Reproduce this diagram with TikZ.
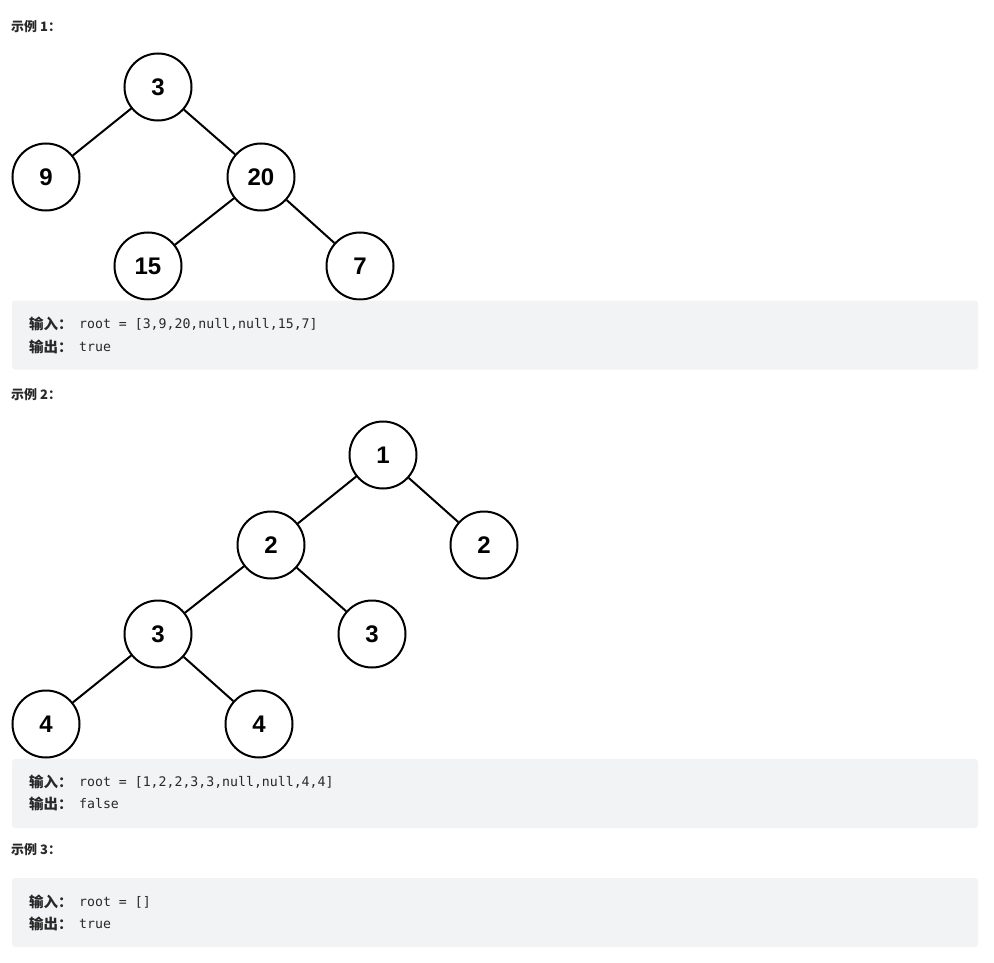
\documentclass[tikz,border=0pt]{standalone}
\usepackage{fontspec}
\setmainfont{Liberation Sans}
\newfontfamily\cjk{Noto Sans CJK SC}
\newfontfamily\codefont{DejaVu Sans Mono}
\usepackage{xcolor}
\usetikzlibrary{positioning}

\definecolor{boxgray}{RGB}{242,243,245}
\definecolor{textgray}{RGB}{40,40,40}

\begin{document}
\begin{tikzpicture}[
        x=1pt, y=-1pt,
        treenode/.style={circle, draw, line width=2pt, minimum size=67pt, inner sep=0pt, font=\bfseries\fontsize{24}{24}\selectfont},
        edge/.style={draw, line width=2pt},
        heading/.style={anchor=west, inner sep=0pt, text=textgray, font=\cjk\bfseries\fontsize{13}{15}\selectfont},
        codebox/.style={rectangle, fill=boxgray, rounded corners=3pt, minimum width=966pt, minimum height=69pt, inner sep=0pt},
        iotag/.style={anchor=west, inner sep=0pt, text=textgray, font=\cjk\bfseries\fontsize{14.5}{16}\selectfont},
        iocode/.style={anchor=west, inner sep=0pt, text=textgray, font=\codefont\fontsize{13.2}{15}\selectfont}
    ]
    \useasboundingbox (0,0) rectangle (994,963);

    % Example 1
    \node [heading] (head1) at (11,27) {示例 1：};
    \node [treenode] (a3) at (158,87) {3};
    \node [treenode] (a9) at (46,177) {9};
    \node [treenode] (a20) at (261,177) {20};
    \node [treenode] (a15) at (148,266) {15};
    \node [treenode] (a7) at (360,266) {7};

    \path [edge] (a3) -- (a9);
    \path [edge] (a3) -- (a20);
    \path [edge] (a20) -- (a15);
    \path [edge] (a20) -- (a7);

    \node [codebox] (box1) at (495,335) {};
    \node [iotag] (in1) at (29,324) {输入：};
    \node [iocode] (incode1) at (79,324) {root = [3,9,20,null,null,15,7]};
    \node [iotag] (out1) at (29,347) {输出：};
    \node [iocode] (outcode1) at (79,347) {true};

    % Example 2
    \node [heading] (head2) at (11,395) {示例 2：};
    \node [treenode] (b1) at (383,455) {1};
    \node [treenode] (b2l) at (271,545) {2};
    \node [treenode] (b2r) at (484,545) {2};
    \node [treenode] (b3l) at (158,634) {3};
    \node [treenode] (b3r) at (372,634) {3};
    \node [treenode] (b4l) at (46,724) {4};
    \node [treenode] (b4r) at (259,724) {4};

    \path [edge] (b1) -- (b2l);
    \path [edge] (b1) -- (b2r);
    \path [edge] (b2l) -- (b3l);
    \path [edge] (b2l) -- (b3r);
    \path [edge] (b3l) -- (b4l);
    \path [edge] (b3l) -- (b4r);

    \node [codebox] (box2) at (495,793.5) {};
    \node [iotag] (in2) at (29,782) {输入：};
    \node [iocode] (incode2) at (79,782) {root = [1,2,2,3,3,null,null,4,4]};
    \node [iotag] (out2) at (29,804) {输出：};
    \node [iocode] (outcode2) at (79,804) {false};

    % Example 3
    \node [heading] (head3) at (11,850) {示例 3：};
    \node [codebox] (box3) at (495,912.5) {};
    \node [iotag] (in3) at (29,902) {输入：};
    \node [iocode] (incode3) at (79,902) {root = []};
    \node [iotag] (out3) at (29,924) {输出：};
    \node [iocode] (outcode3) at (79,924) {true};

\end{tikzpicture}
\end{document}
